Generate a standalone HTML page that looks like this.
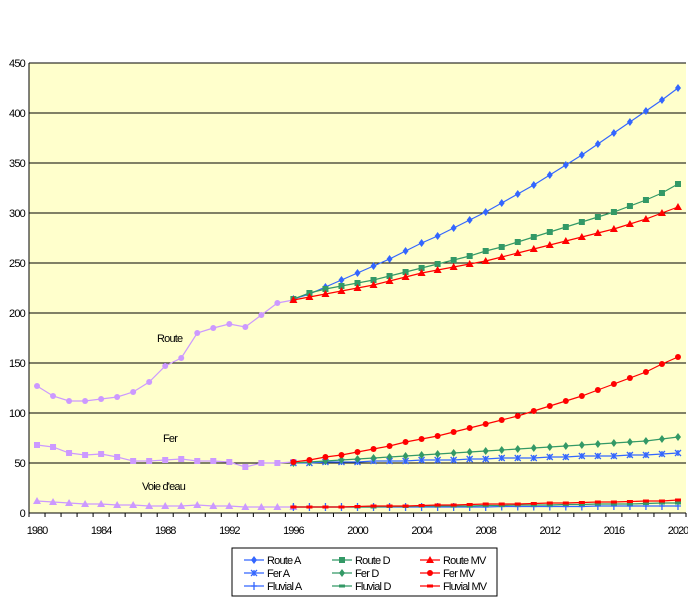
<!DOCTYPE html>
<html><head><meta charset="utf-8"><style>
body{margin:0;background:#fff;}
svg{display:block;font-family:"Liberation Sans",Arial,sans-serif;}
</style></head><body>
<svg id="c" width="688" height="610"></svg>
<script>
const years=[];for(let y=1980;y<=2020;y++)years.push(y);
const yTicks=[0,50,100,150,200,250,300,350,400,450];
const xLabels=[1980,1984,1988,1992,1996,2000,2004,2008,2012,2016,2020];
const histRoute=[127,117,112,112,114,116,121,131,147,155,180,185,189,186,198,210,213];
const histFer=[68,66,60,58,59,56,52,52,53,54,52,52,51,46,50,50,51];
const histEau=[12,11,10,9,9,8,8,7,7,7,8,7,7,6,6,6,6];
const routeA=[214,219,226,233,240,247,254,262,270,277,285,293,301,310,319,328,338,348,358,369,380,391,402,413,425];
const routeD=[214,220,224,227,230,233,237,241,245,249,253,257,262,266,271,276,281,286,291,296,301,307,313,320,329];
const routeMV=[213,216,219,222,225,228,232,236,240,243,246,249,252,256,260,264,268,272,276,280,284,289,294,300,306];
const ferA=[50,50,51,51,51,52,52,52,53,53,53,54,54,55,55,55,56,56,57,57,57,58,58,59,60];
const ferD=[50,51,52,53,54,55,56,57,58,59,60,61,62,63,64,65,66,67,68,69,70,71,72,74,76];
const ferMV=[51,53,56,58,61,64,67,71,74,77,81,85,89,93,97,102,107,112,117,123,129,135,141,149,156];
const fluvA=[6,6,6,6,6,6,6,6,6,6,6,6,6,6.5,6.5,6.5,6.5,6.5,6.5,7,7,7,7,7,7];
const fluvD=[6,6,6,6,6,6,6.5,6.5,7,7,7,7,7.5,7.5,8,8,8,8.5,8.5,9,9,9,9.5,10,10];
const fluvMV=[6,6,6,6,6.5,7,7,7,7.5,8,8,8.5,9,9,9,9.5,10,10,10.5,11,11,11.5,12,12,13];
const L=29,R=686,T=63,B=513,step=(R-L)/41;
const xs=y=>L+(y-1980+0.5)*step;
const ys=v=>B-(v/450)*(B-T);
const svg=document.getElementById('c');const NS='http://www.w3.org/2000/svg';
function el(t,a,p){const e=document.createElementNS(NS,t);for(const k in a)e.setAttribute(k,a[k]);(p||svg).appendChild(e);return e;}
const bg=el('rect',{x:L,y:T,width:R-L,height:B-T,fill:'#ffffcc'});


yTicks.forEach(v=>{
 if(v>0){const g=el('line',{x1:L,x2:R,y1:ys(v),y2:ys(v),stroke:'#000','stroke-width':1});
 
 }
 const t=el('text',{x:L-4,y:ys(v)+4,'text-anchor':'end','font-size':11,'letter-spacing':'-0.8'});t.textContent=v;
 
 
});
el('line',{x1:L,x2:L,y1:T,y2:B,stroke:'#000'});
el('line',{x1:L,x2:R,y1:B,y2:B,stroke:'#000'});
for(let i=0;i<=41;i++)el('line',{x1:L+i*step,x2:L+i*step,y1:B,y2:B+4,stroke:'#000'});
xLabels.forEach(y=>{const t=el('text',{x:xs(y),y:B+21,'text-anchor':'middle','font-size':11,'letter-spacing':'-1'});t.textContent=y;
 
 });
function marker(g,type,x,y,c){
 if(type==='circle')el('circle',{cx:x,cy:y,r:3,fill:c},g);
 else if(type==='square')el('rect',{x:x-3,y:y-3,width:6,height:6,fill:c},g);
 else if(type==='tri')el('path',{d:`M${x},${y-4}L${x+4},${y+3}L${x-4},${y+3}Z`,fill:c},g);
 else if(type==='diamond')el('path',{d:`M${x},${y-4}L${x+3},${y}L${x},${y+4}L${x-3},${y}Z`,fill:c},g);
 else if(type==='star')el('path',{d:`M${x-3},${y-3}L${x+3},${y+3}M${x+3},${y-3}L${x-3},${y+3}M${x},${y-3}L${x},${y+3}`,stroke:c,'stroke-width':1.3},g);
 else if(type==='plus')el('path',{d:`M${x-3},${y}L${x+3},${y}M${x},${y-4}L${x},${y+4}`,stroke:c,'stroke-width':1.3},g);
 else if(type==='dash')el('rect',{x:x-3,y:y-1.5,width:6,height:3,fill:c},g);
}
function series(name,data,start,c,m){
 const g=el('g',{});
 
 
 const pts=data.map((v,i)=>[xs(start+i),ys(v)]);
 el('polyline',{points:pts.map(p=>p.join(',')).join(' '),fill:'none',stroke:c,'stroke-width':1.2},g);
 pts.forEach(p=>marker(g,m,p[0],p[1],c));
}
const lav='#cc99ff',blue='#3366ff',green='#339966',red='#ff0000';
series('route-historical',histRoute,1980,lav,'circle');
series('fer-historical',histFer,1980,lav,'square');
series('voie-eau-historical',histEau,1980,lav,'tri');
series('fluvial-a',fluvA,1996,blue,'plus');
series('fluvial-d',fluvD,1996,green,'dash');
series('fluvial-mv',fluvMV,1996,red,'dash');
series('fer-a',ferA,1996,blue,'star');
series('fer-d',ferD,1996,green,'diamond');
series('fer-mv',ferMV,1996,red,'circle');
series('route-a',routeA,1996,blue,'diamond');
series('route-d',routeD,1996,green,'square');
series('route-mv',routeMV,1996,red,'tri');
[['Route',157,342,'label-route'],['Fer',163,442,'label-fer'],["Voie d'eau",142,490,'label-voie-eau']].forEach(a=>{
 const t=el('text',{x:a[1],y:a[2],'font-size':11,'letter-spacing':'-0.8'});t.textContent=a[0];
 
 });
const lg=el('g',{});


el('rect',{x:232,y:548,width:265,height:48,fill:'#fff',stroke:'#000'},lg);
const leg=[['Route A',blue,'diamond'],['Route D',green,'square'],['Route MV',red,'tri'],['Fer A',blue,'star'],['Fer D',green,'diamond'],['Fer MV',red,'circle'],['Fluvial A',blue,'plus'],['Fluvial D',green,'dash'],['Fluvial MV',red,'dash']];
leg.forEach((d,i)=>{const col=i%3,row=Math.floor(i/3);const x=244+col*88,y=560+row*13;
 const g=el('g',{},lg);
 
 
 el('line',{x1:x,x2:x+20,y1:y,y2:y,stroke:d[1],'stroke-width':1.2},g);marker(g,d[2],x+10,y,d[1]);
 const t=el('text',{x:x+23,y:y+4,'font-size':11,'letter-spacing':'-0.8'},g);t.textContent=d[0];});
</script>
</body></html>
